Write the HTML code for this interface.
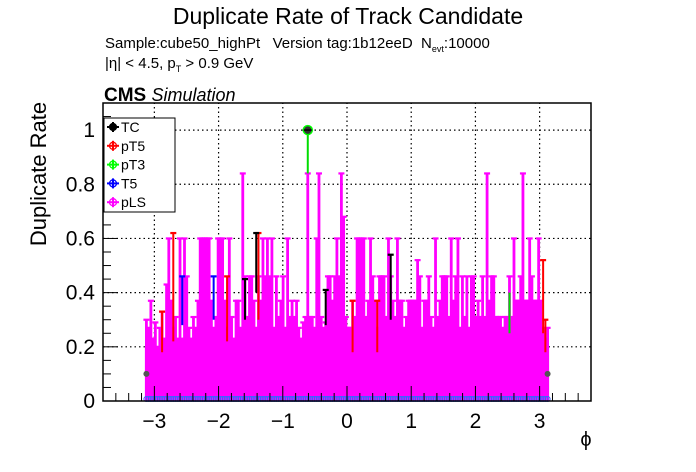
<!DOCTYPE html>
<html><head><meta charset="utf-8">
<style>
html,body{margin:0;padding:0;background:#fff;}
svg{display:block;font-family:"Liberation Sans",sans-serif;}
</style></head>
<body>
<svg id="chart" width="696" height="472" viewBox="0 0 696 472" xmlns="http://www.w3.org/2000/svg">
<rect width="696" height="472" fill="#fff"/>
<text x="348" y="24" font-size="23" text-anchor="middle">Duplicate Rate of Track Candidate</text>
<text x="105" y="48" font-size="15" style="white-space:pre">Sample:cube50_highPt   Version tag:1b12eeD  N<tspan font-size="9" dy="4">evt</tspan><tspan dy="-4">:10000</tspan></text>
<text x="105" y="68" font-size="15">|η| &lt; 4.5, p<tspan font-size="9" dy="4">T</tspan><tspan dy="-4"> &gt; 0.9 GeV</tspan></text>
<text x="104" y="101" font-size="19" font-weight="bold">CMS <tspan font-weight="normal" font-style="italic" font-size="18">Simulation</tspan></text>
<text transform="translate(46,174) rotate(-90)" font-size="22" text-anchor="middle">Duplicate Rate</text>
<text x="586" y="446" font-size="20" text-anchor="middle">ϕ</text>
<g id="grid"></g>
<g id="marks"></g>
<g id="axes"></g>
<g id="legend">
<rect x="104" y="118" width="71" height="94" fill="#fff" stroke="#000" stroke-width="1"/>
</g>
</svg>
<script>
// data
const pLSUp = [0.30,0.27,0.37,0.23,0.29,0.20,0.27,0.33,0.23,0.43,
0.60,0.37,0.27,0.31,0.23,0.60,0.23,0.60,0.46,0.27,
0.23,0.31,0.27,0.37,0.60,0.60,0.60,0.60,0.60,0.37,
0.27,0.31,0.60,0.60,0.60,0.37,0.27,0.60,0.31,0.23,
0.37,0.37,0.27,0.84,0.46,0.31,0.46,0.46,0.37,0.27,
0.46,0.37,0.60,0.46,0.60,0.46,0.60,0.27,0.46,0.31,
0.37,0.46,0.27,0.60,0.31,0.37,0.31,0.37,0.27,0.23,
0.29,0.31,0.84,0.31,0.31,0.27,0.60,0.84,0.31,0.27,
0.29,0.46,0.46,0.37,0.46,0.60,0.46,0.84,0.68,0.31,
0.27,0.27,0.37,0.31,0.60,0.60,0.60,0.60,0.31,0.37,
0.60,0.46,0.37,0.27,0.46,0.46,0.46,0.31,0.60,0.46,
0.37,0.31,0.60,0.37,0.37,0.27,0.31,0.37,0.37,0.37,
0.37,0.52,0.46,0.27,0.37,0.37,0.46,0.31,0.27,0.60,
0.31,0.37,0.46,0.46,0.46,0.31,0.60,0.37,0.46,0.60,
0.27,0.46,0.31,0.46,0.27,0.46,0.46,0.31,0.37,0.31,
0.46,0.31,0.84,0.37,0.46,0.46,0.31,0.31,0.31,0.27,
0.31,0.31,0.46,0.31,0.60,0.37,0.37,0.46,0.84,0.37,
0.37,0.60,0.46,0.37,0.37,0.60,0.37,0.27,0.23,0.27];
const pT5Bins = [7,12,36,50,92,103,177,178];
const pT5Lo = [0.18,0.22,0.22,0.30,0.18,0.18,0.25,0.18];
const pT5Hi = [0.33,0.62,0.46,0.62,0.37,0.37,0.52,0.30];
const tcBins = [44,49,80,109,0,179];
const tcLo = [0.30,0.40,0.28,0.30,0.10,0.10];
const tcHi = [0.45,0.62,0.41,0.54,0.10,0.10];
const t5Bins = [16,30];
const t5Lo = [0.28,0.30];
const t5Hi = [0.46,0.46];
const pT3Bins = [72,162];
const pT3Val = [1.0,0.25];
const pT3Lo = [0.84,0.25];
const pT3Hi = [1.0,0.40];
const xTicks = [-3,-2,-1,0,1,2,3];
const yTicks = [0,0.2,0.4,0.6,0.8,1];
const yTickLabels = ["0","0.2","0.4","0.6","0.8","1"];
const legendNames = ["TC","pT5","pT3","T5","pLS"];
const legendColors = ["#000","#ff0000","#00ff00","#0000ff","#ff00ff"];

const X0=103,X1=591,Y0=401,Y1=103, XMIN=-3.8, XMAX=3.8, YMIN=0, YMAX=1.1;
const NB = pLSUp.length;
function sx(v){return X0+(v-XMIN)/(XMAX-XMIN)*(X1-X0);}
function sy(v){return Y0-(v-YMIN)/(YMAX-YMIN)*(Y0-Y1);}
function binX(i){return sx(-Math.PI+(i+0.5)*2*Math.PI/NB);}
const NS="http://www.w3.org/2000/svg";
function mk(tag,attrs,parent){const e=document.createElementNS(NS,tag);for(const k in attrs)e.setAttribute(k,attrs[k]);parent.appendChild(e);return e;}
const grid=document.getElementById('grid'),marks=document.getElementById('marks'),axes=document.getElementById('axes'),legend=document.getElementById('legend');

xTicks.forEach(t=>{const l=mk('line',{x1:sx(t),x2:sx(t),y1:Y0,y2:Y1,stroke:'#000','stroke-dasharray':'1.5,3','stroke-width':1.2},grid);

});
yTicks.forEach(t=>{if(t===0)return;const l=mk('line',{x1:X0,x2:X1,y1:sy(t),y2:sy(t),stroke:'#000','stroke-dasharray':'1.5,3','stroke-width':1.2},grid);

});

function errBar(x,lo,hi,color,w,name){
  const g=mk('g',{},marks);
  
  
  mk('line',{x1:x,x2:x,y1:sy(lo),y2:sy(hi),stroke:color,'stroke-width':w},g);
  mk('line',{x1:x-3,x2:x+3,y1:sy(hi),y2:sy(hi),stroke:color,'stroke-width':2.2},g);
  return g;
}
// pLS
pLSUp.forEach((v,i)=>{errBar(binX(i),0,v,'#ff00ff',2.8,'pls-error-bar');});
// solid low band from overlapping caps/points
{const b=mk('rect',{x:binX(0)-1.5,y:sy(0.2),width:binX(NB-1)-binX(0)+3,height:sy(0)-sy(0.2),fill:'#ff00ff'},marks);
 
 }
// other series
pT5Bins.forEach((b,i)=>{errBar(binX(b),pT5Lo[i],pT5Hi[i],'#ff0000',2,'pt5-error-bar');});
tcBins.forEach((b,i)=>{if(tcHi[i]>tcLo[i])errBar(binX(b),tcLo[i],tcHi[i],'#000',2,'tc-error-bar');
 else{const c=mk('circle',{cx:binX(b),cy:sy(tcLo[i]),r:3,fill:'#555'},marks);
 
 }});
t5Bins.forEach((b,i)=>{errBar(binX(b),t5Lo[i],t5Hi[i],'#0000ff',2,'t5-error-bar');});
pT3Bins.forEach((b,i)=>{const g=mk('line',{x1:binX(b),x2:binX(b),y1:sy(pT3Lo[i]),y2:sy(pT3Hi[i]),stroke:'#00dd00','stroke-width':2},marks);
 
 });
// zero-row points
for(let i=0;i<NB;i++){const c=mk('circle',{cx:binX(i),cy:Y0-2,r:2.5,fill:'none',stroke:'#3366ff','stroke-width':1},marks);
 
 }
// highlight point at 1
{const b=pT3Bins[0];const c=mk('circle',{cx:binX(b),cy:sy(pT3Val[0]),r:4.5,fill:'#333',stroke:'#00ff00','stroke-width':1.5},marks);
 
 
 mk('line',{x1:binX(b)-4,x2:binX(b)+4,y1:sy(1),y2:sy(1),stroke:'#000','stroke-width':1.5},marks);}

// axes frame
const fr=mk('rect',{x:X0,y:Y1,width:X1-X0,height:Y0-Y1,fill:'none',stroke:'#000','stroke-width':1.5},axes);


for(let v=0;v<=1.1001;v+=0.05){const major=Math.abs(v/0.2-Math.round(v/0.2))<1e-6;
 const t=mk('line',{x1:X0,x2:X0+(major?15:8),y1:sy(v),y2:sy(v),stroke:'#000','stroke-width':1},axes);
 
 }
yTicks.forEach((t,i)=>{const e=mk('text',{x:X0-8,y:sy(t)+7,'font-size':21,'text-anchor':'end'},axes);e.textContent=yTickLabels[i];
 
 });
for(let v=-3.8;v<=3.8001;v+=0.2){const major=Math.abs(v-Math.round(v))<1e-6;
 const t=mk('line',{x1:sx(v),x2:sx(v),y1:Y0,y2:Y0-(major?15:8),stroke:'#000','stroke-width':1},axes);
 
 }
xTicks.forEach(t=>{const e=mk('text',{x:sx(t),y:Y0+27,'font-size':21,'text-anchor':'middle'},axes);e.textContent=(t<0?'\u2212':'')+Math.abs(t);
 
 });

// legend
legendNames.forEach((n,i)=>{const y=127+i*18.8;
 const g=mk('g',{},legend);
 
 
 mk('line',{x1:107,x2:119,y1:y,y2:y,stroke:legendColors[i],'stroke-width':2},g);
 mk('line',{x1:113,x2:113,y1:y-5,y2:y+5,stroke:legendColors[i],'stroke-width':2},g);
 mk('circle',{cx:113,cy:y,r:3.5,fill:i===0?'#000':'none',stroke:legendColors[i],'stroke-width':1.3},g);
 const t=mk('text',{x:121,y:y+5,'font-size':14},g);t.textContent=n;});
</script>
</body></html>
